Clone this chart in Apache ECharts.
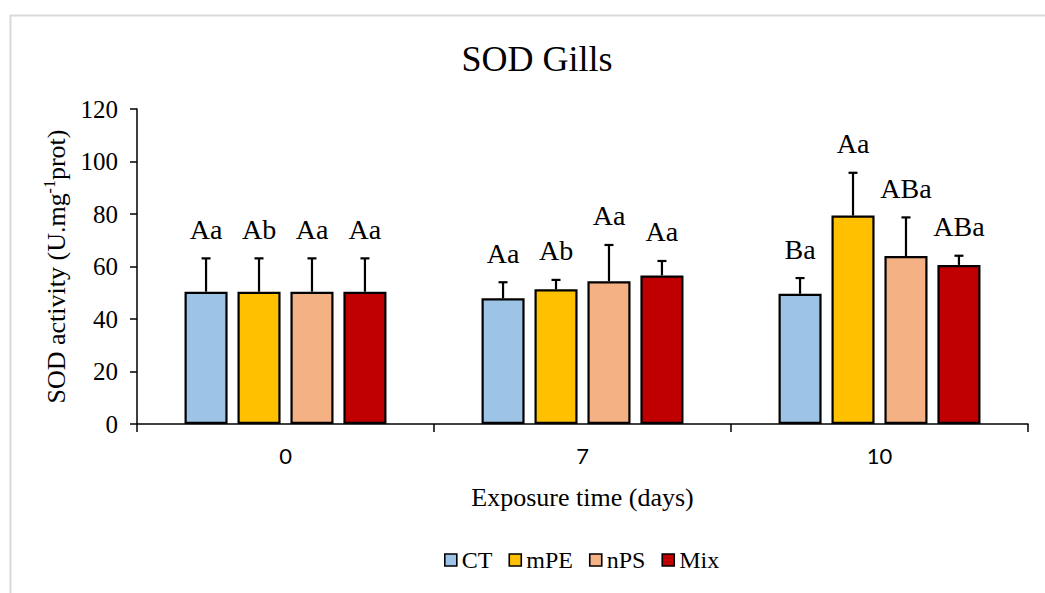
<!DOCTYPE html>
<html>
<head>
<meta charset="utf-8">
<script src="https://cdn.jsdelivr.net/npm/echarts@6/dist/echarts.min.js"></script>
<style>
  html, body { margin: 0; padding: 0; background: #fff; }
  #chart { width: 1045px; height: 593px; }
</style>
</head>
<body>
<div id="chart"></div>
<script>
// Exposure days on the x axis
const categories = ['0', '7', '10'];
const seriesNames = ['CT', 'mPE', 'nPS', 'Mix'];

// Mean SOD activity per treatment (U.mg-1 prot)
const ctMean  = [50.4, 47.9, 49.6];
const mpeMean = [50.4, 51.3, 79.4];
const npsMean = [50.4, 54.4, 64.0];
const mixMean = [50.4, 56.6, 60.6];

// Standard deviations (upper error bars)
const ctSd  = [12.7, 6.1, 6.0];
const mpeSd = [12.7, 3.6, 16.3];
const npsSd = [12.7, 13.8, 14.7];
const mixSd = [12.7, 5.5, 3.5];

// Significance letters over each bar
const ctLetters  = ['Aa', 'Aa', 'Ba'];
const mpeLetters = ['Ab', 'Ab', 'Aa'];
const npsLetters = ['Aa', 'Aa', 'ABa'];
const mixLetters = ['Aa', 'Aa', 'ABa'];

// Y axis ticks
const yMin = 0, yMax = 120, yStep = 20;

const means = [ctMean, mpeMean, npsMean, mixMean];
const sds = [ctSd, mpeSd, npsSd, mixSd];
const letters = [ctLetters, mpeLetters, npsLetters, mixLetters];
const colors = ['#9DC3E6', '#FFC000', '#F4B183', '#C00000'];

const SERIF = '"Liberation Serif", "Times New Roman", serif';
const CAT_GAP = 0.32;   // barCategoryGap
const BAR_GAP = 0.23;   // barGap

const chart = echarts.init(document.getElementById('chart'), null, { renderer: 'svg' });

const barSeries = seriesNames.map((name, i) => ({
  name,
  type: 'bar',
  data: means[i],
  barGap: (BAR_GAP * 100) + '%',
  barCategoryGap: (CAT_GAP * 100) + '%',
  itemStyle: { color: colors[i], borderColor: '#000', borderWidth: 2.2 },
  emphasis: { disabled: true },
  z: 2
}));

// Upper error bar plus significance letters for series i
function errorSeries(i) {
  const n = seriesNames.length;
  return {
    name: seriesNames[i] + ' SD',
    type: 'custom',
    z: 3,
    silent: true,
    data: categories.map((c, j) => [j, means[i][j], sds[i][j]]),
    renderItem(params, api) {
      const cat = api.value(0), m = api.value(1), sd = api.value(2);
      const band = api.size([1, 0])[0];
      const group = band * (1 - CAT_GAP);
      const bw = group / (n + (n - 1) * BAR_GAP);
      const off = -group / 2 + i * bw * (1 + BAR_GAP) + bw / 2;
      const base = api.coord([cat, m]);
      const top = api.coord([cat, m + sd]);
      const x = base[0] + off;
      const lineStyle = { stroke: '#000', lineWidth: 2.2 };
      return {
        type: 'group',
        children: [
          { type: 'line', shape: { x1: x, y1: base[1], x2: x, y2: top[1] }, style: lineStyle },
          { type: 'line', shape: { x1: x - 4.5, y1: top[1], x2: x + 4.5, y2: top[1] }, style: lineStyle },
          {
            type: 'text', x: x, y: top[1] - 15,
            style: {
              text: letters[i][params.dataIndex],
              fill: '#000',
              fontSize: 28,
              fontFamily: SERIF,
              textAlign: 'center',
              textVerticalAlign: 'bottom',
              align: 'center',
              verticalAlign: 'bottom'
            }
          }
        ]
      };
    }
  };
}

const option = {
  backgroundColor: '#fff',
  animation: false,
  graphic: [{
    type: 'rect',
    left: 8, top: 13,
    shape: { width: 1060, height: 600 },
    style: { fill: 'none', stroke: '#d9d9d9', lineWidth: 2 },
    silent: true
  }],
  title: {
    text: 'SOD Gills',
    left: 532,
    top: 36,
    textAlign: 'center',
    textStyle: { fontFamily: SERIF, fontSize: 36, fontWeight: 'normal', color: '#000' }
  },
  legend: {
    data: seriesNames,
    left: 439,
    top: 543,
    icon: 'rect',
    itemWidth: 12,
    itemHeight: 12,
    itemGap: 16,
    selectedMode: false,
    itemStyle: { borderColor: '#000', borderWidth: 1.6 },
    textStyle: { fontFamily: SERIF, fontSize: 24, color: '#000', padding: [0, 0, 0, 0] }
  },
  grid: { left: 137, right: 17, top: 109, bottom: 169, containLabel: false },
  xAxis: {
    type: 'category',
    data: categories,
    name: 'Exposure time (days)',
    nameLocation: 'middle',
    nameGap: 60,
    nameTextStyle: { fontFamily: SERIF, fontSize: 26, color: '#000' },
    axisLine: { lineStyle: { color: '#000', width: 1.5 } },
    axisTick: { show: true, length: 8, lineStyle: { color: '#000', width: 1.5 } },
    axisLabel: { margin: 20, fontFamily: 'Lato, "Open Sans", sans-serif', fontSize: 22, color: '#000' }
  },
  yAxis: {
    type: 'value',
    min: yMin, max: yMax, interval: yStep,
    name: '{n|SOD activity (U.mg}{s|-1}{n|prot)}',
    nameLocation: 'middle',
    nameRotate: 90,
    nameGap: 62,
    nameTextStyle: {
      color: '#000',
      rich: {
        n: { fontFamily: SERIF, fontSize: 26, color: '#000', lineHeight: 30 },
        s: { fontFamily: SERIF, fontSize: 16, color: '#000', verticalAlign: 'top', lineHeight: 30, padding: [0, 0, 12, 0] }
      }
    },
    axisLine: { show: true, lineStyle: { color: '#000', width: 1.5 } },
    axisTick: { show: true, length: 7, lineStyle: { color: '#000', width: 1.5 } },
    splitLine: { show: false },
    axisLabel: { margin: 19, fontFamily: SERIF, fontSize: 25, color: '#000' }
  },
  series: [...barSeries, ...seriesNames.map((_, i) => errorSeries(i))]
};

chart.setOption(option);
</script>
</body>
</html>
